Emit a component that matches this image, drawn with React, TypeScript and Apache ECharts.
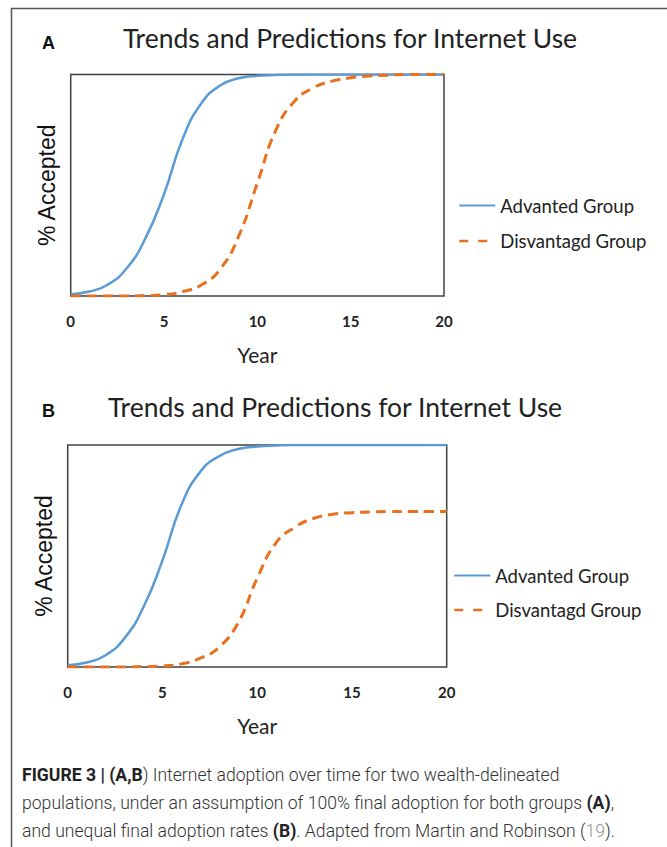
import React, { useEffect, useRef } from "react";
import * as echarts from "echarts";

const years = [0, 1, 2, 3, 4, 5, 6, 7, 8, 9, 10, 11, 12, 13, 14, 15, 16, 17, 18, 19, 20];
const xTicks = [0, 5, 10, 15, 20];
const seriesNames = ["Advanted Group", "Disvantagd Group"];
const advantagedA = [0.8, 2, 5.2, 12.5, 26, 46, 71, 87, 95, 98.3, 99.4, 99.8, 100, 100, 100, 100, 100, 100, 100, 100, 100];
const disadvantagedA = [0, 0, 0, 0, 0.2, 0.6, 2, 5, 12, 27, 51, 75, 88, 94, 97, 98.5, 99.3, 99.7, 100, 100, 100];
const advantagedB = [0.8, 2, 5.3, 13, 27, 48, 73, 88, 95, 98.2, 99.3, 99.8, 100, 100, 100, 100, 100, 100, 100, 100, 100];
const disadvantagedB = [0, 0, 0, 0, 0.2, 0.5, 1.4, 4, 9, 20, 40, 56, 63, 67, 68.8, 69.5, 69.8, 70, 70, 70, 70];
const panelTitle = "Trends and Predictions for Internet Use";
const panelLetters = ["A", "B"];
const xName = "Year";
const yName = "% Accepted";

const BLUE = "#5B9BD5";
const ORANGE = "#E8701F";

const pairs = (vals: number[]) => years.map((y, i) => [y, vals[i]]);

export default function App() {
  const ref = useRef<HTMLDivElement>(null);
  useEffect(() => {
    if (!ref.current) return;
    const chart = echarts.init(ref.current, null, { renderer: "svg" });
    const grids = [
      { left: 70.7, top: 74.5, width: 373.3, height: 221.5 },
      { left: 67.7, top: 445, width: 379, height: 222 },
    ];
    const xAxisCommon = {
      type: "value",
      min: 0,
      max: 20,
      interval: 5,
      axisLine: { show: false },
      axisTick: { show: false },
      splitLine: { show: false },
      axisLabel: {
        margin: 17,
        fontFamily: "Lato",
        fontWeight: "bold",
        fontSize: 15,
        color: "#222",
        customValues: xTicks,
      },
      name: xName,
      nameLocation: "middle",
      nameGap: 48,
      nameTextStyle: { fontFamily: "Lato", fontSize: 21, color: "#222" },
    };
    const yAxisCommon = {
      type: "value",
      min: 0,
      max: 100,
      axisLine: { show: false },
      axisTick: { show: false },
      splitLine: { show: false },
      axisLabel: { show: false },
      name: yName,
      nameLocation: "middle",
      nameGap: 12,
      nameTextStyle: { fontFamily: "Liberation Sans, Arial", fontSize: 23, color: "#111" },
    };
    const lineSeries = (name: string, data: number[], idx: number, dashed: boolean) => ({
      type: "line",
      name,
      xAxisIndex: idx,
      yAxisIndex: idx,
      data: pairs(data),
      smooth: true,
      symbol: "none",
      z: dashed ? 3 : 2,
      lineStyle: dashed
        ? { color: ORANGE, width: 3, type: [10, 6] }
        : { color: BLUE, width: 2.5 },
      itemStyle: { color: dashed ? ORANGE : BLUE },
    });
    const legendData = [
      { name: seriesNames[0] },
      { name: seriesNames[1], lineStyle: { type: [9, 10], width: 2.5 } },
    ];
    const legendCommon = {
      orient: "vertical",
      itemWidth: 36,
      itemHeight: 14,
      selectedMode: false,
      itemStyle: { color: "transparent", borderColor: "transparent", borderWidth: 0, opacity: 0 },
      textStyle: { fontFamily: "Lato", fontSize: 18.5, color: "#222" },
      data: legendData,
    };
    const captionStyle = {
      fontFamily: "Roboto",
      fontSize: 17.6,
      fontWeight: 300,
      fill: "#333",
      verticalAlign: "middle",
      rich: {
        b: { fontFamily: "Roboto", fontSize: 17.6, fontWeight: "bold", fill: "#222" },
        n: { fontFamily: "Roboto", fontSize: 17.6, fontWeight: 300, fill: "#333" },
        g: { fontFamily: "Roboto", fontSize: 17.6, fontWeight: 300, fill: "#999" },
      },
    };
    chart.setOption({
      animation: false,
      backgroundColor: "#fff",
      grid: grids.map((g) => ({
        ...g,
        show: true,
        borderColor: "#404040",
        borderWidth: 1.5,
        backgroundColor: "transparent",
      })),
      xAxis: [
        { ...xAxisCommon, gridIndex: 0 },
        { ...xAxisCommon, gridIndex: 1 },
      ],
      yAxis: [
        { ...yAxisCommon, gridIndex: 0 },
        { ...yAxisCommon, gridIndex: 1 },
      ],
      legend: [
        { ...legendCommon, left: 453, top: 191, itemGap: 16.5 },
        { ...legendCommon, left: 448, top: 561, itemGap: 15.5 },
      ],
      series: [
        lineSeries(seriesNames[0], advantagedA, 0, false),
        lineSeries(seriesNames[1], disadvantagedA, 0, true),
        lineSeries(seriesNames[0], advantagedB, 1, false),
        lineSeries(seriesNames[1], disadvantagedB, 1, true),
      ],
      graphic: [
        {
          type: "polyline",
          shape: { points: [[11.5, 847], [11.5, 8.5], [667, 8.5]] },
          style: { stroke: "#555", lineWidth: 1.5, fill: null },
        },
        {
          type: "text",
          x: 42,
          y: 43,
          style: { text: panelLetters[0], fontFamily: "Liberation Sans, Arial", fontWeight: "bold", fontSize: 18, fill: "#111", verticalAlign: "middle" },
        },
        {
          type: "text",
          x: 350,
          y: 38,
          style: { text: panelTitle, fontFamily: "Lato", fontSize: 26.5, fill: "#222", align: "center", verticalAlign: "middle" },
        },
        {
          type: "text",
          x: 42,
          y: 411,
          style: { text: panelLetters[1], fontFamily: "Liberation Sans, Arial", fontWeight: "bold", fontSize: 18, fill: "#111", verticalAlign: "middle" },
        },
        {
          type: "text",
          x: 335,
          y: 407,
          style: { text: panelTitle, fontFamily: "Lato", fontSize: 26.5, fill: "#222", align: "center", verticalAlign: "middle" },
        },
        {
          type: "text",
          x: 22,
          y: 775,
          style: { ...captionStyle, text: "{b|FIGURE 3 | (A,B}{n|) Internet adoption over time for two wealth-delineated}" },
        },
        {
          type: "text",
          x: 22,
          y: 803,
          style: { ...captionStyle, text: "{n|populations, under an assumption of 100% final adoption for both groups }{b|(A)}{n|,}" },
        },
        {
          type: "text",
          x: 22,
          y: 831,
          style: { ...captionStyle, text: "{n|and unequal final adoption rates }{b|(B)}{n|. Adapted from Martin and Robinson (}{g|19}{n|).}" },
        },
      ],
    });
    return () => chart.dispose();
  }, []);
  return (
    <div
      ref={ref}
      style={{ position: "fixed", left: 0, top: 0, width: 667, height: 847, background: "#fff" }}
    />
  );
}
